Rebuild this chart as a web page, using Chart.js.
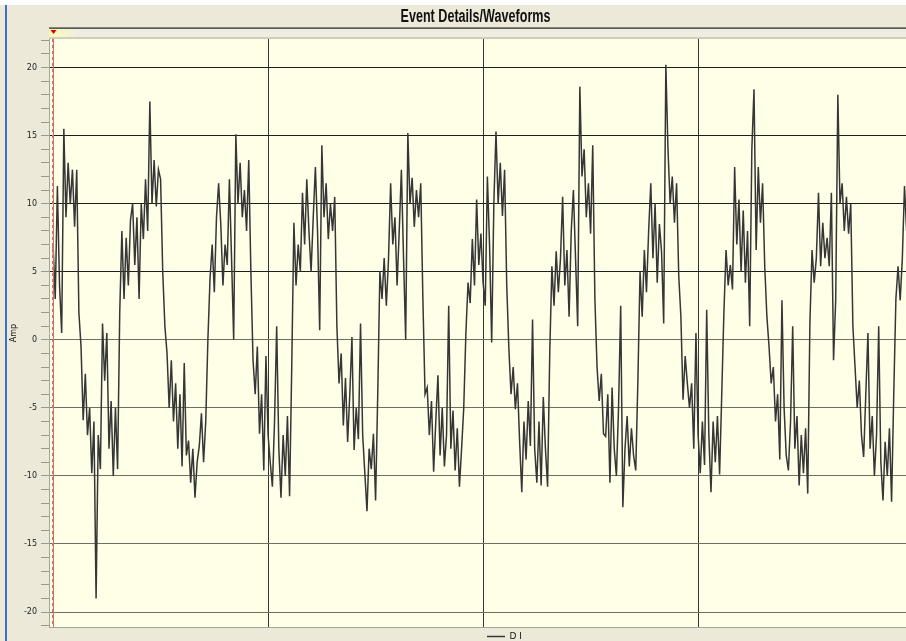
<!DOCTYPE html>
<html>
<head>
<meta charset="utf-8">
<title>Event Details/Waveforms</title>
<script src="https://cdn.jsdelivr.net/npm/chart.js@4.4.1/dist/chart.umd.min.js"></script>
<style>
  html, body { margin: 0; padding: 0; background: #fff; }
  #wrap { width: 906px; height: 641px; }
</style>
</head>
<body>
<div id="wrap"><canvas id="waveChart" width="906" height="641"></canvas></div>
<script>
// waveform samples, one every ~2.15 px
const amp = [
  7, 3, 11.3, 4, 0.5, 15.5, 9, 13, 10, 12.5,
  8.3, 12.5, 2, -0.5, -5.9, -2.5, -7, -5, -9.8, -6,
  -19, -7, -9.5, 1.2, -3, 0.5, -8, -4.5, -10, -5,
  -9.5, 2, 8, 3, 7.5, 4, 8.8, 10, 5.5, 9,
  3, 10, 7.4, 11.8, 8, 17.5, 10, 13.2, 9.8, 12.5,
  11.8, 5, 1, -1, -5, -1.5, -6, -3.2, -8, -4,
  -9.3, -1.7, -8.5, -7.4, -10.5, -8, -11.6, -9, -7.8, -5.4,
  -9, -6, 0, 4.5, 7, 3.5, 9, 11.5, 8.5, 4,
  7, 5.5, 11.8, 6, 0, 15.1, 10, 13, 9, 11,
  8, 13.2, 5, -1.5, -4, -0.5, -6.9, -4, -9.6, -1.2,
  -7, -9, -10.8, -6, 1, -8, -11.6, -7, -10, -5.6,
  -11.5, -2, 8.6, 4, 7, 5, 10.8, 7, 11.8, 8,
  5, 9, 12.7, 8, 0.7, 14.3, 9, 11.5, 7.4, 10,
  8, 10.5, 1, -3.2, -1, -6.3, -2.8, -7.5, -4, 0.2,
  -8.1, -5, -7.3, 1.2, -7, -9.8, -12.6, -8, -9.5, -6.9,
  -11.8, -4, 5, 3, 6, 2.5, 5.9, 11.5, 7, 9,
  4, 8, 12.5, 6, 0, 15.2, 10, 11.9, 8.3, 11,
  9, 11.5, 3, -4, -3.5, -7, -4.5, -9.7, -6, -2.6,
  -8.5, -5, -9.3, -7, 2.5, -8, -5.2, -9.6, -6.5, -10.8,
  -8, -5, 0.5, 4.2, 2.7, 7.4, 4, 10.3, 5.5, 7.8,
  4.2, 2.5, 12, 7, -0.2, 10, 15.3, 10, 13, 9.1,
  12.5, 4, -0.7, -4, -2, -5.1, -3.2, -7.5, -11.2, -6,
  -8.8, -4.5, -7.8, 1.5, -8, -10.5, -6, -10.7, -4.2, -8,
  -10.8, -1, 5.4, 2.5, 6.5, 3.5, 6, 10.5, 4, 6.6,
  1.7, 8, 11, 6, 1, 18.6, 12, 14, 9, 11.5,
  7.8, 14.3, 3, -2, -4.5, -2.5, -6.9, -7.1, -4, -10.5,
  -3.5, -8, -10, -5, 2.5, -12.3, -8, -5.6, -9.3, -6.5,
  -8.5, -9.6, -3, 5, 1.7, 6.6, 3.5, 8, 11.5, 6,
  10, 4.2, 8.5, 6.5, 1.2, 20.2, 14, 10, 12, 8.6,
  11.5, 4.7, 1.7, -4.4, -1.2, -3.2, -5, -3.2, -8, 0.5,
  -7, -9.8, -6, -9.2, 2.2, -7, -11.2, -6, -9, -5.6,
  -9.9, -4, 2, 6.6, 4, 5.5, 3.7, 12.7, 7, 10.3,
  5, 9.5, 4.2, 8, 1, 14, 18.4, 6.6, 12.7, 8.6,
  11.5, 5.4, 1.7, -0.5, -3.2, -2, -6, -4, -8.8, 2.9,
  -5, -8.5, -9.6, -6, 1, -8, -5.6, -10.7, -7, -9.8,
  -6.5, -11.3, 1.2, 6.6, 4.2, 6, 10.8, 5.4, 8.6, 6,
  7.5, 5.4, 10.8, -1.5, 2.9, 18, 10, 11.5, 8, 10.5,
  7.8, 10, 1, -2, -5, -3, -7, -8.6, -4, 0.5,
  -8, -5.6, -10, -7, 1, -9, -11.8, -7.5, -10, -6.5,
  -11.9, -4, 3, 5.4, 2.9, 6, 11.3, 8
];
const ampTickLabels = [-20, -15, -10, -5, 0, 5, 10, 15, 20];
const timeGrid = [100, 200, 300];
const cursorAt = 0;
const seriesName = 'D I';
const chartTitle = 'Event Details/Waveforms';

const minorTicks = [];
for (let v = -21; v <= 22; v++) minorTicks.push(v);

const panel = {
  id: 'panel',
  beforeDraw(chart) {
    const { ctx, chartArea: a, width, height } = chart;
    ctx.save();
    ctx.fillStyle = '#ffffff';
    ctx.fillRect(0, 0, width, height);
    ctx.fillStyle = '#ECE9D8';
    ctx.fillRect(0, 5, width, height - 5);
    ctx.fillStyle = '#3d6ed2';
    ctx.fillRect(5, 5, 2, height - 5);
    // condensed bold title
    ctx.font = "bold 18px 'Liberation Sans', Arial, sans-serif";
    ctx.fillStyle = '#111';
    ctx.textAlign = 'center';
    ctx.textBaseline = 'alphabetic';
    const tw = ctx.measureText(chartTitle).width;
    ctx.save();
    ctx.translate(475.5, 22);
    ctx.scale(150 / tw, 1);
    ctx.fillText(chartTitle, 0, 0);
    ctx.restore();
    // cursor strip above the plot
    const g = ctx.createLinearGradient(a.left, 0, a.left + 30, 0);
    g.addColorStop(0, '#fffdb8');
    g.addColorStop(1, '#efede0');
    ctx.fillStyle = g;
    ctx.fillRect(a.left, 28, a.right - a.left, 10);
    ctx.fillStyle = '#1c1c1c';
    ctx.fillRect(a.left, 27.5, a.right - a.left, 1.2);
    ctx.fillStyle = '#b0aea2';
    ctx.fillRect(a.left, 37.5, a.right - a.left, 1);
    ctx.fillStyle = '#FFFFE8';
    ctx.fillRect(a.left, a.top, a.right - a.left, a.bottom - a.top);
    ctx.restore();
  },
  afterDatasetsDraw(chart) {
    const { ctx, chartArea: a, scales: { x } } = chart;
    const px = Math.round(x.getPixelForValue(cursorAt)) + 0.5;
    ctx.save();
    ctx.lineWidth = 1;
    ctx.strokeStyle = '#ff5a5a';
    ctx.beginPath(); ctx.moveTo(px, a.top); ctx.lineTo(px, a.bottom); ctx.stroke();
    ctx.strokeStyle = '#8c8c8c';
    ctx.setLineDash([3, 3]);
    ctx.beginPath(); ctx.moveTo(px - 1, a.top); ctx.lineTo(px - 1, a.bottom); ctx.stroke();
    ctx.setLineDash([]);
    ctx.fillStyle = '#e00000';
    ctx.beginPath();
    ctx.moveTo(px - 3, 30); ctx.lineTo(px + 3, 30); ctx.lineTo(px, 34);
    ctx.closePath(); ctx.fill();
    ctx.restore();
  },
  afterLayout(chart) {
    // legend sits a bit right of centre in the original
    chart.legend.left += 27;
    chart.legend.right += 27;
  }
};

new Chart(document.getElementById('waveChart'), {
  type: 'line',
  data: {
    datasets: [{
      label: seriesName,
      data: amp.map((v, i) => ({ x: i, y: v })),
      borderColor: '#363636',
      backgroundColor: '#777',
      borderWidth: 1.5,
      pointRadius: 0,
      tension: 0
    }]
  },
  options: {
    responsive: false,
    animation: false,
    layout: { padding: { left: 6, right: 0, top: 39, bottom: -10 } },
    plugins: {
      title: { display: false },
      legend: {
        position: 'bottom',
        fullSize: false,
        labels: {
          usePointStyle: true,
          pointStyle: 'line',
          pointStyleWidth: 18,
          color: '#111',
          padding: 5,
          font: { size: 9, family: 'DejaVu Sans' }
        }
      },
      tooltip: { enabled: false }
    },
    scales: {
      x: {
        type: 'linear',
        min: -1.9,
        max: 396.7,
        afterBuildTicks: s => { s.ticks = timeGrid.map(v => ({ value: v })); },
        ticks: { display: false },
        grid: { color: '#363636', lineWidth: 1, drawTicks: false },
        border: { display: true, color: '#a6a498' },
        afterFit: s => { s.height = 0; }
      },
      y: {
        min: -21.1,
        max: 22.1,
        afterBuildTicks: s => { s.ticks = minorTicks.map(v => ({ value: v })); },
        ticks: {
          autoSkip: false,
          padding: 4,
          color: '#222',
          font: { size: 8, family: 'DejaVu Sans' },
          callback: v => ampTickLabels.includes(v) ? String(v) : ''
        },
        grid: {
          color: c => {
            const v = c.tick ? c.tick.value : 1;
            if (!ampTickLabels.includes(v)) return 'rgba(0,0,0,0)';
            return v > 0 ? '#1e1e1e' : '#707062';
          },
          tickColor: '#9a9a90',
          tickLength: 8,
          lineWidth: 1
        },
        border: { display: true, color: '#a6a498' },
        title: {
          display: true,
          text: 'Amp',
          color: '#222',
          font: { size: 8, family: 'DejaVu Sans' },
          padding: { top: 3, bottom: 0 }
        },
        afterFit: s => { s.width = 43; }
      }
    }
  },
  plugins: [panel]
});
</script>
</body>
</html>
